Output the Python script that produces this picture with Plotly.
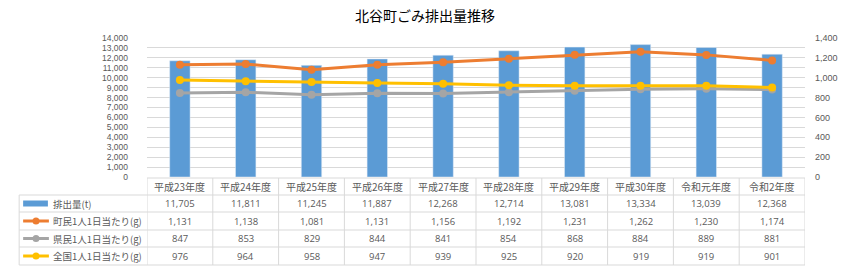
import plotly.graph_objects as go

categories = ["平成23年度", "平成24年度", "平成25年度", "平成26年度", "平成27年度",
              "平成28年度", "平成29年度", "平成30年度", "令和元年度", "令和2年度"]
emissions = [11705, 11811, 11245, 11887, 12268, 12714, 13081, 13334, 13039, 12368]
town_per_capita = [1131, 1138, 1081, 1131, 1156, 1192, 1231, 1262, 1230, 1174]
pref_per_capita = [847, 853, 829, 844, 841, 854, 868, 884, 889, 881]
nation_per_capita = [976, 964, 958, 947, 939, 925, 920, 919, 919, 901]

series_names = ["排出量(t)", "町民1人1日当たり(g)", "県民1人1日当たり(g)", "全国1人1日当たり(g)"]
colors = ["#5B9BD5", "#ED7D31", "#A5A5A5", "#FFC000"]

W, H = 850, 270
L, R, T, B = 147, 811, 38, 177
FONT = "Noto Sans CJK JP, Noto Sans, sans-serif"
NUMFONT = "Open Sans, Noto Sans, sans-serif"
TICKFONT = "Liberation Sans, Arial, sans-serif"

def py(p):
    return (B - p) / (B - T)

def px(p):
    return (p - L) / (R - L)

fig = go.Figure()
fig.add_trace(go.Bar(x=categories, y=emissions, name=series_names[0],
                     marker_color=colors[0], width=0.31, yaxis="y"))
for vals, nm, c in [(town_per_capita, series_names[1], colors[1]),
                    (pref_per_capita, series_names[2], colors[2]),
                    (nation_per_capita, series_names[3], colors[3])]:
    fig.add_trace(go.Scatter(x=categories, y=vals, name=nm, yaxis="y2",
                             mode="lines+markers",
                             line=dict(color=c, width=3),
                             marker=dict(color=c, size=8, symbol="circle")))

shapes = []
annotations = []
grid = "#D9D9D9"
row_edges = [178, 195, 212, 230, 247, 265]
row_centers = [(row_edges[i] + row_edges[i + 1]) / 2 for i in range(5)]
n = len(categories)

for i, e in enumerate(row_edges):
    x0 = px(L) if i == 0 else px(18)
    shapes.append(dict(type="line", xref="paper", yref="paper", x0=x0, x1=1,
                       y0=py(e), y1=py(e), line=dict(color=grid, width=1)))
for k in range(n + 1):
    shapes.append(dict(type="line", xref="x", yref="paper", x0=k - 0.5, x1=k - 0.5,
                       y0=py(row_edges[0]), y1=py(row_edges[-1]),
                       line=dict(color=grid, width=1)))
shapes.append(dict(type="line", xref="paper", yref="paper", x0=px(18), x1=px(18),
                   y0=py(row_edges[1]), y1=py(row_edges[-1]), line=dict(color=grid, width=1)))

for k, c in enumerate(categories):
    annotations.append(dict(x=c, y=py(row_centers[0]), xref="x", yref="paper", text=c,
                            xanchor="center", yanchor="middle",
                            showarrow=False, font=dict(size=10, color="#595959", family=FONT)))
table = [emissions, town_per_capita, pref_per_capita, nation_per_capita]
for r, vals in enumerate(table):
    yc = py(row_centers[r + 1])
    for k, v in enumerate(vals):
        annotations.append(dict(x=categories[k], y=yc, xref="x", yref="paper",
                                xanchor="center", yanchor="middle",
                                text=f"{v:,}", showarrow=False,
                                font=dict(size=9.5, color="#595959", family=NUMFONT)))
    annotations.append(dict(x=px(50), y=yc, xref="paper", yref="paper", xanchor="left",
                            yanchor="middle",
                            text=series_names[r], showarrow=False,
                            font=dict(size=9.5, color="#595959", family=FONT)))
    yp = row_centers[r + 1]
    if r == 0:
        shapes.append(dict(type="rect", xref="paper", yref="paper", x0=px(22), x1=px(47),
                           y0=py(yp + 3), y1=py(yp - 3), fillcolor=colors[0], line=dict(width=0)))
    else:
        shapes.append(dict(type="line", xref="paper", yref="paper", x0=px(22), x1=px(48),
                           y0=py(yp), y1=py(yp), line=dict(color=colors[r], width=3)))
        shapes.append(dict(type="circle", xref="paper", yref="paper", x0=px(31.5), x1=px(38.5),
                           y0=py(yp + 3.5), y1=py(yp - 3.5), fillcolor=colors[r],
                           line=dict(width=0)))

fig.update_layout(
    width=W, height=H,
    margin=dict(l=L, r=W - R, t=T, b=H - B, pad=0),
    paper_bgcolor="white", plot_bgcolor="white",
    showlegend=False,
    title=dict(text="北谷町ごみ排出量推移", x=0.5, xanchor="center", y=1 - 16 / H, yanchor="middle",
               font=dict(size=14, color="#000000", family=FONT)),
    font=dict(family=FONT, color="#595959"),
    xaxis=dict(showticklabels=False, showgrid=False, zeroline=False, showline=False,
               range=[-0.5, n - 0.5]),
    yaxis=dict(range=[0, 14000], dtick=1000, tickformat=",", gridcolor=grid, gridwidth=1,
               zeroline=False, showline=False, ticks="", ticklabelstandoff=18,
               tickfont=dict(size=8.5, color="#595959", family=TICKFONT)),
    yaxis2=dict(range=[0, 1400], dtick=200, tickformat=",", overlaying="y", side="right",
                showgrid=False, zeroline=False, showline=False, ticks="", ticklabelstandoff=9,
                tickfont=dict(size=9, color="#595959", family=TICKFONT)),
    shapes=shapes,
    annotations=annotations,
)

fig.write_html("out.html")
